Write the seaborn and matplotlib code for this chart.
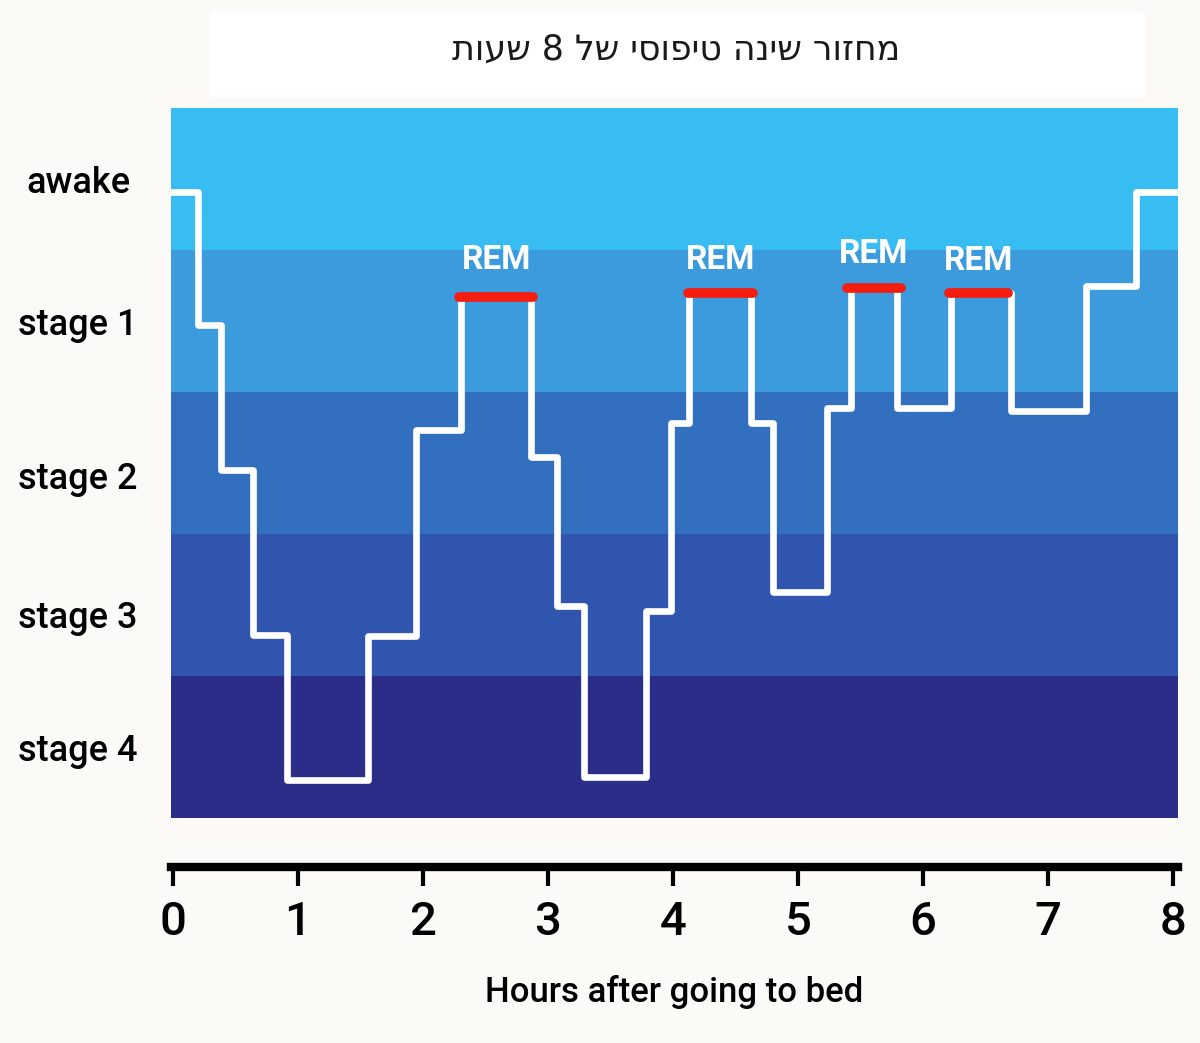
import matplotlib.pyplot as plt
import matplotlib.patches as mpatches
import seaborn as sns
import pandas as pd
import numpy as np

# stages (top to bottom) and band colours
stages = ["awake", "stage 1", "stage 2", "stage 3", "stage 4"]
band_colors = ["#38BDF2", "#3C9BDC", "#336FBF", "#3055AF", "#2A2E88"]
label_pos = [4.5, 3.5, 2.41, 1.43, 0.5]

# hypnogram: time (hours) at which each level starts, and the level
change_hours = [-0.02, 0.20, 0.38, 0.64, 0.91, 1.56, 1.94, 2.30, 2.86, 3.07,
                3.29, 3.78, 3.98, 4.13, 4.62, 4.80, 5.23, 5.42, 5.79, 6.22,
                6.70, 7.30, 7.70, 8.06]
levels = [4.41, 3.47, 2.45, 1.29, 0.27, 1.28, 2.73, 3.67, 2.54, 1.49,
          0.29, 1.46, 2.78, 3.70, 2.78, 1.59, 2.89, 3.73, 2.89, 3.70,
          2.87, 3.75, 4.41, 4.41]

# REM periods
rem_start = [2.29, 4.12, 5.39, 6.21]
rem_end = [2.88, 4.64, 5.82, 6.68]
rem_level = [3.67, 3.70, 3.73, 3.70]
rem_label_y = [3.93, 3.93, 3.97, 3.92]

hours = list(range(9))
title = "מחזור שינה טיפוסי של 8 שעות"
xlabel = "Hours after going to bed"

df = pd.DataFrame({"hour": change_hours, "level": levels})

sns.set_theme(style="white")
plt.rcParams["font.family"] = ["Roboto", "DejaVu Sans"]

bg = "#FCFAF7"
fig = plt.figure(figsize=(12, 10.43), dpi=100, facecolor=bg)
ax = fig.add_axes([0.1425, 0.2157, 0.8392, 0.6807])
ax.set_facecolor(bg)

# title box
fig.patches.append(mpatches.Rectangle((210 / 1200, 1 - 98 / 1043), 935 / 1200, 86 / 1043,
                                      transform=fig.transFigure, facecolor="white",
                                      edgecolor="none", zorder=0))
fig.text(676 / 1200, 1 - 50 / 1043, title[::-1], ha="center", va="center",
         fontsize=25, color="#1a1a1a", family=["DejaVu Sans"])

# bands
for i, c in enumerate(band_colors):
    ax.axhspan(4 - i, 5 - i, color=c, lw=0, zorder=0)

sns.lineplot(data=df, x="hour", y="level", drawstyle="steps-post", color="white",
             lw=4.8, ax=ax, sort=False, estimator=None, zorder=3)

for s, e, lv, ly in zip(rem_start, rem_end, rem_level, rem_label_y):
    ax.plot([s, e], [lv, lv], color="#F41D10", lw=7, solid_capstyle="round", zorder=4)
    ax.text((s + e) / 2, ly, "REM", color="white", ha="center", va="center",
            fontsize=24, fontweight="bold", zorder=5)

ax.set_xlim(-0.016, 8.04)
ax.set_ylim(0, 5)

# move the bottom spine down first (this resets tick settings)
sns.despine(ax=ax, left=True, offset={"bottom": 35})
ax.spines["bottom"].set_linewidth(6)
ax.spines["bottom"].set_color("black")
ax.grid(False)

ax.set_yticks(label_pos)
ax.set_yticklabels(stages, fontsize=26, ha="center", fontweight="medium", color="black")
ax.tick_params(axis="y", length=0, pad=67, left=False)

ax.set_xticks(hours)
ax.set_xticklabels([str(h) for h in hours], fontsize=34, fontweight="medium", color="black")
ax.tick_params(axis="x", direction="out", length=14, width=3, color="black", pad=10,
               bottom=True)
ax.set_xlabel(xlabel, fontsize=25, labelpad=22, fontweight="medium", color="black")
ax.set_ylabel("")

fig.savefig("out.png", dpi=100, facecolor=bg)
